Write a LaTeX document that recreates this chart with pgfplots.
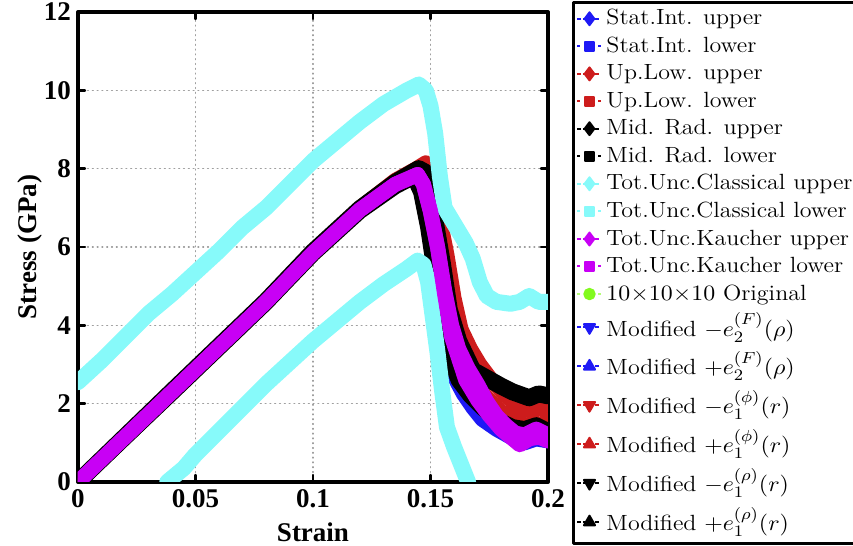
\documentclass[border=0pt]{standalone}
\usepackage{pgfplots}
\pgfplotsset{compat=1.18}
\usepackage{graphicx}
\usepackage{fontspec}
\newfontfamily\tnr{Liberation Serif}
\usetikzlibrary{calc}
\definecolor{myblue}{RGB}{30,25,245}
\definecolor{myred}{RGB}{205,28,28}
\definecolor{mycyan}{RGB}{135,250,250}
\definecolor{mymag}{RGB}{200,0,245}
\definecolor{mygreen}{RGB}{130,250,30}
\newcommand\LE[1]{\scalebox{1.09}[1]{#1}}
\begin{document}
\begin{tikzpicture}
\begin{axis}[
  scale only axis, width=235pt, height=235pt,
  xmin=0, xmax=0.2, ymin=0, ymax=12,
  xtick={0,0.05,0.1,0.15,0.2}, xticklabels={0,0.05,0.1,0.15,0.2},
  ytick={0,2,4,6,8,10,12},
  /pgf/number format/assume math mode=true,
  tick label style={font=\tnr\bfseries\fontsize{13.5}{16}\selectfont},
  xlabel={Strain}, ylabel={Stress (GPa)},
  label style={font=\tnr\bfseries\fontsize{13.5}{16}\selectfont},
  xlabel style={at={(axis description cs:0.5,0)}, anchor=north, yshift=-17pt},
  ylabel style={at={(axis description cs:0,0.5)}, anchor=center, rotate=0, yshift=24pt},
  axis line style={line width=2pt},
  tick style={line width=1.2pt, black},
  tick align=inside, major tick length=3.5pt,
  grid=major, major grid style={dotted, gray!75, line width=0.7pt},
  legend style={at={(1,1)}, anchor=north west, xshift=12pt, yshift=5.5pt,
    draw=black, line width=1.5pt, font=\fontsize{11}{13}\selectfont,
    cells={anchor=west}, inner sep=1.5pt, row sep=0.6pt},
  legend image code/.code={\draw[mark repeat=2,mark phase=2,#1,line width=1pt] plot coordinates {(0pt,0pt) (6pt,0pt) (12pt,0pt)};},
  line join=round, line cap=round,
]
% legend images
\addlegendimage{myblue, dash pattern=on 2pt off 1pt, mark=diamond*, mark size=3.2pt, mark options={solid}}
\addlegendentry{\LE{Stat.Int. upper}}
\addlegendimage{myblue, dotted, mark=square*, mark size=2.3pt, mark options={solid}}
\addlegendentry{\LE{Stat.Int. lower}}
\addlegendimage{myred, dash pattern=on 2pt off 1pt, mark=diamond*, mark size=3.2pt, mark options={solid}}
\addlegendentry{\LE{Up.Low. upper}}
\addlegendimage{myred, dotted, mark=square*, mark size=2.3pt, mark options={solid}}
\addlegendentry{\LE{Up.Low. lower}}
\addlegendimage{black, dash pattern=on 2pt off 1pt, mark=diamond*, mark size=3.2pt, mark options={solid}}
\addlegendentry{\LE{Mid. Rad. upper}}
\addlegendimage{black, dotted, mark=square*, mark size=2.3pt, mark options={solid}}
\addlegendentry{\LE{Mid. Rad. lower}}
\addlegendimage{mycyan, dash pattern=on 2pt off 1pt, mark=diamond*, mark size=3.2pt, mark options={solid}}
\addlegendentry{\LE{Tot.Unc.Classical upper}}
\addlegendimage{mycyan, dotted, mark=square*, mark size=2.3pt, mark options={solid}}
\addlegendentry{\LE{Tot.Unc.Classical lower}}
\addlegendimage{mymag, dash pattern=on 2pt off 1pt, mark=diamond*, mark size=3.2pt, mark options={solid}}
\addlegendentry{\LE{Tot.Unc.Kaucher upper}}
\addlegendimage{mymag, dotted, mark=square*, mark size=2.3pt, mark options={solid}}
\addlegendentry{\LE{Tot.Unc.Kaucher lower}}
\addlegendimage{mygreen!60, dotted, mark=*, mark size=2.6pt, mark options={solid, fill=mygreen, draw=mygreen}}
\addlegendentry{\LE{$10{\times}10{\times}10$ Original}}
\addlegendimage{myblue, dash pattern=on 2pt off 1pt, mark=triangle*, mark size=3.2pt, mark options={solid, rotate=180}}
\addlegendentry[text depth=3.1pt]{\LE{Modified $-e_2^{(F)}(\rho)$}}
\addlegendimage{myblue, dash pattern=on 2pt off 1pt, mark=triangle*, mark size=3.2pt, mark options={solid}}
\addlegendentry[text depth=3.1pt]{\LE{Modified $+e_2^{(F)}(\rho)$}}
\addlegendimage{myred, dash pattern=on 2pt off 1pt, mark=triangle*, mark size=3.2pt, mark options={solid, rotate=180}}
\addlegendentry[text depth=3.1pt]{\LE{Modified $-e_1^{(\phi)}(r)$}}
\addlegendimage{myred, dash pattern=on 2pt off 1pt, mark=triangle*, mark size=3.2pt, mark options={solid}}
\addlegendentry[text depth=3.1pt]{\LE{Modified $+e_1^{(\phi)}(r)$}}
\addlegendimage{black, dash pattern=on 2pt off 1pt, mark=triangle*, mark size=3.2pt, mark options={solid, rotate=180}}
\addlegendentry[text depth=3.1pt]{\LE{Modified $-e_1^{(\rho)}(r)$}}
\addlegendimage{black, dash pattern=on 2pt off 1pt, mark=triangle*, mark size=3.2pt, mark options={solid}}
\addlegendentry[text depth=3.1pt]{\LE{Modified $+e_1^{(\rho)}(r)$}}

% Original (hidden under the bands)
\addplot[forget plot, mygreen, line width=3pt] coordinates {(0,0) (0.05,2.85) (0.1,5.85) (0.12,6.95) (0.135,7.6) (0.1445,7.85) (0.15,6.9) (0.156,4.9) (0.162,3.4) (0.17,2.5) (0.178,1.7) (0.186,1.25) (0.195,1.3) (0.2,1.2)};

% Stat.Int. (blue)
\addplot[forget plot, myblue, line width=7.5pt] coordinates {(0,0) (0.02,1.15) (0.04,2.3) (0.06,3.45) (0.08,4.6) (0.1,5.85) (0.12,6.95) (0.135,7.6) (0.1445,7.85) (0.147,7.6) (0.15,6.9) (0.153,6.0) (0.156,4.9) (0.159,4.0) (0.162,3.4) (0.166,2.9) (0.17,2.5) (0.174,2.05) (0.178,1.7) (0.182,1.45) (0.186,1.25) (0.19,1.2) (0.195,1.35) (0.2,1.2)};
\addplot[forget plot, myblue, line width=7.5pt] coordinates {(0,0) (0.02,1.15) (0.04,2.3) (0.06,3.45) (0.08,4.6) (0.1,5.85) (0.12,6.95) (0.135,7.6) (0.1445,7.8) (0.15,6.8) (0.154,5.2) (0.157,3.3) (0.16,2.7) (0.164,2.25) (0.168,1.9) (0.172,1.6) (0.178,1.35) (0.184,1.15) (0.19,1.0) (0.195,1.1) (0.2,1.05)};

% Up.Low. (red)
\addplot[forget plot, myred, line width=7.5pt] coordinates {(0,0) (0.02,1.17) (0.04,2.33) (0.06,3.48) (0.08,4.63) (0.1,5.9) (0.12,7.0) (0.135,7.7) (0.144,8.0) (0.148,8.15) (0.151,7.6) (0.154,6.7) (0.157,5.8) (0.16,4.7) (0.163,3.9) (0.167,3.4) (0.171,3.0) (0.176,2.6) (0.182,2.2) (0.188,1.9) (0.193,1.8) (0.197,1.9) (0.2,1.75)};
\addplot[forget plot, myred, line width=7.5pt] coordinates {(0,0) (0.02,1.15) (0.04,2.3) (0.06,3.45) (0.08,4.6) (0.1,5.85) (0.12,6.95) (0.135,7.6) (0.146,7.9) (0.15,7.0) (0.155,5.4) (0.159,4.0) (0.163,3.2) (0.168,2.6) (0.174,2.15) (0.18,1.8) (0.186,1.6) (0.19,1.45) (0.195,1.5) (0.2,1.4)};

% Mid. Rad. (black)
\addplot[forget plot, black, line width=8.5pt] coordinates {(0,0) (0.02,1.16) (0.04,2.32) (0.06,3.47) (0.08,4.62) (0.1,5.88) (0.12,6.98) (0.135,7.65) (0.145,8.0) (0.148,7.9) (0.151,7.0) (0.155,5.6) (0.158,4.4) (0.162,3.6) (0.168,2.85) (0.174,2.65) (0.18,2.45) (0.185,2.3) (0.192,2.15) (0.196,2.25) (0.2,2.2)};
\addplot[forget plot, black, line width=8pt] coordinates {(0,0) (0.02,1.14) (0.04,2.28) (0.06,3.43) (0.08,4.58) (0.1,5.83) (0.12,6.92) (0.135,7.55) (0.143,7.8) (0.146,7.4) (0.149,6.5) (0.152,5.3) (0.155,4.1) (0.158,3.2) (0.162,2.6) (0.167,2.2) (0.172,1.9) (0.178,1.6) (0.185,1.4) (0.19,1.35) (0.195,1.45) (0.2,1.3)};

% Tot.Unc.Classical (cyan)
\addplot[forget plot, mycyan, line width=8pt] coordinates {(0,2.55) (0.01,3.1) (0.02,3.7) (0.03,4.3) (0.04,4.8) (0.05,5.35) (0.06,5.9) (0.07,6.5) (0.08,7.0) (0.09,7.6) (0.1,8.2) (0.11,8.7) (0.12,9.2) (0.13,9.65) (0.14,10.0) (0.145,10.15) (0.148,10.0) (0.15,9.6) (0.152,8.9) (0.154,7.8) (0.156,7.0) (0.16,6.6) (0.165,6.1) (0.168,5.7) (0.171,5.1) (0.174,4.75) (0.178,4.6) (0.184,4.55) (0.188,4.6) (0.192,4.75) (0.196,4.6) (0.2,4.6)};
\addplot[forget plot, mycyan, line width=8pt] coordinates {(0.038,0) (0.045,0.35) (0.05,0.7) (0.06,1.3) (0.07,1.9) (0.08,2.5) (0.09,3.05) (0.1,3.6) (0.11,4.1) (0.12,4.6) (0.13,5.05) (0.14,5.45) (0.1445,5.65) (0.147,5.55) (0.149,5.1) (0.151,4.2) (0.153,3.3) (0.155,2.3) (0.157,1.4) (0.16,0.9) (0.163,0.45) (0.166,0.0)};

% Modified (hidden)
\addplot[forget plot, myblue, line width=1pt] coordinates {(0,0) (0.1,5.85) (0.1445,7.85) (0.156,4.9) (0.17,2.5) (0.186,1.25) (0.2,1.2)};
\addplot[forget plot, myred, line width=1pt] coordinates {(0,0) (0.1,5.85) (0.1445,7.85) (0.156,4.9) (0.17,2.5) (0.186,1.25) (0.2,1.2)};

% Tot.Unc.Kaucher (magenta)
\addplot[forget plot, mymag, line width=7.5pt] coordinates {(0,0) (0.02,1.15) (0.04,2.3) (0.06,3.45) (0.08,4.6) (0.1,5.85) (0.12,6.95) (0.135,7.6) (0.1445,7.85) (0.147,7.6) (0.15,6.9) (0.153,6.0) (0.156,4.9) (0.159,4.0) (0.162,3.4) (0.166,2.9) (0.17,2.5) (0.174,2.05) (0.178,1.7) (0.182,1.45) (0.186,1.25) (0.19,1.2) (0.195,1.35) (0.2,1.2)};
\addplot[forget plot, mymag, line width=7.5pt] coordinates {(0,0) (0.02,1.15) (0.04,2.3) (0.06,3.45) (0.08,4.6) (0.1,5.85) (0.12,6.95) (0.135,7.6) (0.1445,7.85) (0.147,7.6) (0.15,6.9) (0.153,6.0) (0.156,4.8) (0.159,3.7) (0.165,2.6) (0.17,2.1) (0.175,1.7) (0.18,1.35) (0.185,1.1) (0.188,0.95) (0.192,1.1) (0.196,1.15) (0.2,1.05)};
\end{axis}
\pgfresetboundingbox
\path ($(current axis.south west)+(-39pt,-32pt)$) rectangle ($(current axis.south west)+(387.5pt,241pt)$);
\end{tikzpicture}
\end{document}
